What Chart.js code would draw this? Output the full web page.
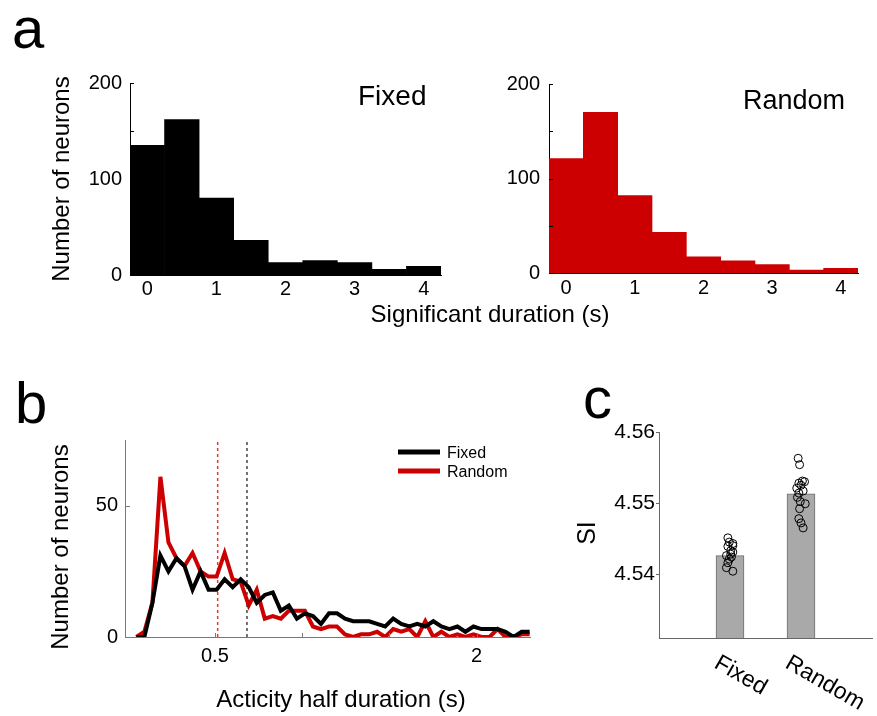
<!DOCTYPE html>
<html>
<head>
<meta charset="utf-8">
<script src="https://cdn.jsdelivr.net/npm/chart.js@4.4.1/dist/chart.umd.min.js"></script>
<style>
  html, body { margin: 0; padding: 0; background: #fff; }
  #wrap { position: relative; width: 877px; height: 716px; overflow: hidden; }
  canvas { position: absolute; }
</style>
</head>
<body>
<div id="wrap">
  <canvas id="histFixed" width="877" height="340" style="left:0;top:0"></canvas>
  <canvas id="histRandom" width="427" height="340" style="left:450px;top:0"></canvas>
  <canvas id="halfDur" width="560" height="356" style="left:0;top:360px"></canvas>
  <canvas id="siBars" width="317" height="356" style="left:560px;top:360px"></canvas>
</div>
<script>
// panel a: significant duration histograms
var durBins = ['0', '0.5', '1', '1.5', '2', '2.5', '3', '3.5', '4'];
var durFixed = [135, 162, 80, 36, 13, 15, 13, 6, 9];
var durRandom = [121, 170, 82, 43, 17, 13, 9, 3, 5];
var durTicks = [0, 100, 200];
var durMarks = [0, 50, 100, 150, 200];

// panel b: activity half duration
var halfX = [0.05, 0.096, 0.142, 0.188, 0.234, 0.28, 0.326, 0.372, 0.418, 0.464,
             0.51, 0.556, 0.602, 0.648, 0.694, 0.74, 0.786, 0.832, 0.878, 0.924,
             0.97, 1.016, 1.062, 1.108, 1.154, 1.2, 1.246, 1.292, 1.338, 1.384,
             1.43, 1.476, 1.522, 1.568, 1.614, 1.66, 1.706, 1.752, 1.798, 1.844,
             1.89, 1.936, 1.982, 2.028, 2.074, 2.12, 2.166, 2.212, 2.258, 2.304];
var halfFixed = [0, 0, 13, 31, 25, 30, 27, 18, 25, 18, 18, 22, 19, 22, 19, 13, 16, 17, 10, 12,
                 7, 9, 8, 5, 9, 9, 7, 6, 6, 6, 5, 4, 7, 5, 4, 5, 4, 6, 4, 3,
                 4, 2, 4, 3, 3, 3, 2, 0, 2, 2];
var halfRandom = [0, 2, 13, 61, 36, 30, 27, 32, 25, 23, 23, 32, 22, 21, 12, 18, 7, 8, 7, 10,
                  10, 10, 4, 3, 4, 4, 1, 0, 1, 1, 2, 0, 3, 2, 3, 0, 6, 0, 2, 0,
                  1, 0, 1, 0, 0, 3, 0, 0, 1, 1];
var medianFixed = 0.684;
var medianRandom = 0.516;
var halfTicks = [0.5, 2];
var countTicks = [0, 50];

// panel c: SI
var siGroups = ['Fixed', 'Random'];
var siPos = [1, 2];
var siMean = [4.5426, 4.5513];
var siFixedX = [0.97, 0.99, 1.04, 1.04, 0.97, 1.01, 1.04, 1.01, 0.95, 1.02, 0.99, 0.97, 0.95, 1.04];
var siFixedY = [4.5451, 4.5445, 4.5443, 4.5440, 4.5439, 4.5433, 4.5431, 4.5428, 4.5426, 4.5424, 4.5421, 4.5416, 4.5409, 4.5404];
var siRandomX = [1.96, 1.98, 2.02, 2.05, 1.97, 2.00, 1.94, 2.03, 1.97, 1.95, 1.99, 2.06, 1.98, 1.97, 2.00, 2.03];
var siRandomY = [4.5563, 4.5554, 4.5531, 4.5530, 4.5528, 4.5525, 4.5521, 4.5517, 4.5514, 4.5508, 4.5502, 4.5499, 4.5492, 4.5478, 4.5472, 4.5465];
var siTicks = [4.54, 4.55, 4.56];

var FONT = "'Liberation Sans', Arial, sans-serif";
Chart.defaults.font.family = FONT;
Chart.defaults.font.size = 20;
Chart.defaults.color = '#000';
Chart.defaults.animation = false;

// small tick marks along an axis (positive len = into the plot)
var tickMarks = {
    id: 'tickMarks',
    afterDraw: function(chart, args, opts) {
        var ctx = chart.ctx;
        (opts.marks || []).forEach(function(m) {
            var s = chart.scales[m.scale];
            ctx.save();
            ctx.strokeStyle = m.color;
            ctx.lineWidth = 1;
            m.values.forEach(function(v) {
                var p = Math.round(s.getPixelForValue(v)) + 0.5;
                ctx.beginPath();
                if (s.isHorizontal()) {
                    ctx.moveTo(p, s.top);
                    ctx.lineTo(p, s.top - m.len);
                } else {
                    ctx.moveTo(s.right, p);
                    ctx.lineTo(s.right + m.len, p);
                }
                ctx.stroke();
            });
            ctx.restore();
        });
    }
};

// free text and legend strokes
var extras = {
    id: 'extras',
    afterDraw: function(chart, args, opts) {
        var ctx = chart.ctx;
        (opts.lines || []).forEach(function(l) {
            ctx.save();
            ctx.strokeStyle = l.color;
            ctx.lineWidth = l.width;
            ctx.beginPath();
            ctx.moveTo(l.x1, l.y);
            ctx.lineTo(l.x2, l.y);
            ctx.stroke();
            ctx.restore();
        });
        (opts.texts || []).forEach(function(t) {
            var x = t.x;
            if (t.xValue !== undefined) x = chart.scales.x.getPixelForValue(t.xValue) + t.dx;
            ctx.save();
            ctx.font = t.font;
            ctx.fillStyle = '#000';
            ctx.textAlign = t.align || 'left';
            ctx.textBaseline = t.baseline || 'alphabetic';
            ctx.translate(x, t.y);
            ctx.rotate((t.angle || 0) * Math.PI / 180);
            ctx.fillText(t.text, 0, 0);
            ctx.restore();
        });
    }
};
Chart.register(tickMarks, extras);

function histChart(id, values, color, box, yTitle, texts) {
    return new Chart(document.getElementById(id), {
        type: 'bar',
        data: {
            labels: durBins,
            datasets: [{
                data: values,
                backgroundColor: color,
                borderWidth: 0,
                barPercentage: 1,
                categoryPercentage: 1
            }]
        },
        options: {
            responsive: false,
            events: [],
            layout: { padding: { top: box.top, right: box.right, left: 0, bottom: 0 } },
            scales: {
                x: {
                    grid: { display: false, drawTicks: false },
                    border: { display: true, color: '#000' },
                    ticks: {
                        autoSkip: false, maxRotation: 0, padding: box.xPad,
                        callback: function(v, i) { return Number(durBins[i]) % 1 === 0 ? durBins[i] : ''; }
                    },
                    afterFit: function(s) { s.height = box.xh; }
                },
                y: {
                    min: 0, max: 200,
                    grid: { display: false, drawTicks: false },
                    border: { display: true, color: '#000' },
                    ticks: { padding: box.yPad },
                    afterBuildTicks: function(s) { s.ticks = durTicks.map(function(v) { return { value: v }; }); },
                    title: yTitle,
                    afterFit: function(s) { s.width = box.yw; }
                }
            },
            plugins: {
                legend: { display: false },
                tooltip: { enabled: false },
                tickMarks: { marks: [{ scale: 'y', values: durMarks, len: 4, color: '#000' }] },
                extras: { texts: texts }
            }
        }
    });
}

histChart('histFixed', durFixed, '#000000',
    { top: 83, right: 436, xh: 65, yw: 130, xPad: 2, yPad: 8 },
    { display: true, text: 'Number of neurons', font: { size: 24 }, padding: { top: 47.6, bottom: 0 } },
    [
        { text: 'a', x: 12, y: 48, font: '58px ' + FONT },
        { text: 'Fixed', x: 358, y: 105, font: '28px ' + FONT },
        { text: 'Significant duration (s)', x: 490, y: 322, align: 'center', font: '24px ' + FONT }
    ]);

histChart('histRandom', durRandom, '#cc0000',
    { top: 84, right: 19, xh: 67, yw: 99, xPad: 3, yPad: 9 },
    { display: false },
    [
        { text: 'Random', x: 293, y: 109, font: '27px ' + FONT }
    ]);

// panel b
function pts(xs, ys) {
    return xs.map(function(x, i) { return { x: x, y: ys[i] }; });
}

new Chart(document.getElementById('halfDur'), {
    type: 'line',
    data: {
        datasets: [
            { data: pts(halfX, halfFixed), borderColor: '#000000', borderWidth: 4, pointRadius: 0, tension: 0 },
            { data: pts(halfX, halfRandom), borderColor: '#cc0000', borderWidth: 4, pointRadius: 0, tension: 0 },
            { data: [{ x: medianRandom, y: 0 }, { x: medianRandom, y: 75 }], borderColor: '#e53935', borderWidth: 1.5, borderDash: [3, 3], pointRadius: 0 },
            { data: [{ x: medianFixed, y: 0 }, { x: medianFixed, y: 75 }], borderColor: '#444444', borderWidth: 1.5, borderDash: [3, 3], pointRadius: 0 }
        ]
    },
    options: {
        responsive: false,
        events: [],
        layout: { padding: { top: 80, right: 30, left: 0, bottom: 0 } },
        scales: {
            x: {
                type: 'linear', min: -0.015, max: 2.306,
                grid: { display: false, drawTicks: false },
                border: { display: true, color: '#777' },
                ticks: { padding: 7, callback: function(v) { return String(v); } },
                afterBuildTicks: function(s) { s.ticks = halfTicks.map(function(v) { return { value: v }; }); },
                afterFit: function(s) { s.height = 79; }
            },
            y: {
                min: 0, max: 75,
                grid: { display: false, drawTicks: false },
                border: { display: true, color: '#777' },
                ticks: { padding: 7 },
                afterBuildTicks: function(s) { s.ticks = countTicks.map(function(v) { return { value: v }; }); },
                afterFit: function(s) { s.width = 125; }
            }
        },
        plugins: {
            legend: { display: false },
            tooltip: { enabled: false },
            tickMarks: { marks: [
                { scale: 'y', values: countTicks, len: 5, color: '#777' },
                { scale: 'x', values: [0.5, 1, 1.5, 2], len: 4, color: '#777' }
            ] },
            extras: {
                lines: [
                    { x1: 398, x2: 440, y: 92, color: '#000000', width: 5 },
                    { x1: 398, x2: 440, y: 111, color: '#cc0000', width: 5 }
                ],
                texts: [
                    { text: 'b', x: 15, y: 63, font: '58px ' + FONT },
                    { text: 'Fixed', x: 447, y: 98, font: '16px ' + FONT },
                    { text: 'Random', x: 447, y: 117, font: '16px ' + FONT },
                    { text: 'Number of neurons', x: 61, y: 187, angle: -90, align: 'center', baseline: 'middle', font: '24px ' + FONT },
                    { text: 'Acticity half duration (s)', x: 341, y: 347, align: 'center', font: '24px ' + FONT }
                ]
            }
        }
    }
});

// panel c
new Chart(document.getElementById('siBars'), {
    type: 'bar',
    data: {
        datasets: [
            { type: 'scatter', data: pts(siFixedX, siFixedY), pointRadius: 4, pointBorderWidth: 1,
              pointBorderColor: '#000', pointBackgroundColor: 'rgba(0,0,0,0)' },
            { type: 'scatter', data: pts(siRandomX, siRandomY), pointRadius: 4, pointBorderWidth: 1,
              pointBorderColor: '#000', pointBackgroundColor: 'rgba(0,0,0,0)' },
            { type: 'bar', data: pts(siPos, siMean), backgroundColor: '#a9a9a9', borderColor: '#6e6e6e',
              borderWidth: 1, barThickness: 28 }
        ]
    },
    options: {
        responsive: false,
        events: [],
        layout: { padding: { top: 72, right: 4, left: 0, bottom: 0 } },
        scales: {
            x: {
                type: 'linear', min: 0, max: 3, offset: false,
                grid: { display: false, drawTicks: false },
                border: { display: true, color: '#666' },
                ticks: { display: false },
                afterFit: function(s) { s.height = 78; }
            },
            y: {
                min: 4.531, max: 4.56,
                grid: { display: false, drawTicks: false },
                border: { display: true, color: '#666' },
                ticks: { padding: 4, font: { size: 21 }, callback: function(v) { return v.toFixed(2); } },
                afterBuildTicks: function(s) { s.ticks = siTicks.map(function(v) { return { value: v }; }); },
                afterFit: function(s) { s.width = 99; }
            }
        },
        plugins: {
            legend: { display: false },
            tooltip: { enabled: false },
            tickMarks: { marks: [{ scale: 'y', values: siTicks, len: -3, color: '#666' }] },
            extras: {
                texts: [
                    { text: 'c', x: 23, y: 58, font: '58px ' + FONT },
                    { text: 'SI', x: 28, y: 173, angle: -90, align: 'center', baseline: 'middle', font: '25px ' + FONT },
                    { text: siGroups[0], xValue: siPos[0], dx: -17, y: 307, angle: 30, font: '23px ' + FONT },
                    { text: siGroups[1], xValue: siPos[1], dx: -17, y: 307, angle: 30, font: '23px ' + FONT }
                ]
            }
        }
    }
});
</script>
</body>
</html>
